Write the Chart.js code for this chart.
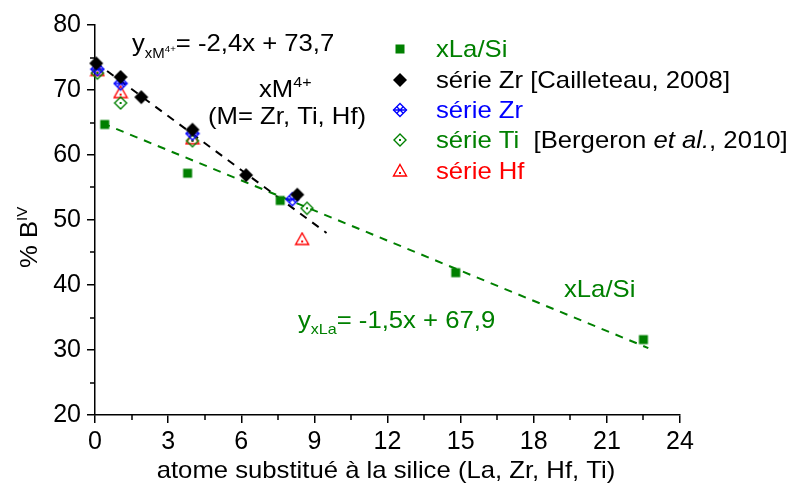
<!DOCTYPE html>
<html>
<head>
<meta charset="utf-8">
<script src="https://cdn.jsdelivr.net/npm/chart.js@4/dist/chart.umd.min.js"></script>
<style>
  html, body { margin: 0; background: #fff; }
</style>
</head>
<body>
<canvas id="chart" width="792" height="489"></canvas>
<script>
/* ---- data ---- */
const laX = [0.4, 3.8, 7.6, 14.8, 22.5];
const laY = [64.7, 57.2, 53.0, 41.9, 31.6];

const zrRefX = [0.05, 1.05, 1.9, 4.0, 6.2, 8.3];
const zrRefY = [74.1, 72.0, 68.9, 63.9, 56.9, 53.9];

const zrX = [0.1, 1.05, 4.0, 8.1];
const zrY = [73.2, 71.0, 63.3, 53.2];

const tiX = [0.1, 1.05, 4.0, 8.7];
const tiY = [72.6, 68.0, 62.2, 51.8];

const hfX = [0.1, 1.05, 4.0, 8.5];
const hfY = [73.0, 69.6, 62.5, 47.0];

// dashed fit lines (end points as drawn)
const fitMX = [0, 9.5];
const fitMY = [74.3, 48.0];
const fitLaX = [0.3, 22.7];
const fitLaY = [64.9, 30.3];

const xTicks = [0, 3, 6, 9, 12, 15, 18, 21, 24];
const yTicks = [20, 30, 40, 50, 60, 70, 80];

const FONT = "'Liberation Sans', Arial, sans-serif";
const GREEN = '#008000', BLUE = '#0000ff', RED = '#ff0000', BLACK = '#000000';
const TXT = 24, STRETCH = 1.07;

const pts = (xs, ys) => xs.map((x, i) => ({ x, y: ys[i] }));

/* ---- marker images ---- */
function marker(kind, color) {
  const c = document.createElement('canvas');
  const s = 16;
  c.width = s; c.height = s;
  const g = c.getContext('2d');
  const m = s / 2;
  g.strokeStyle = color; g.fillStyle = color; g.lineWidth = 1.4;
  if (kind === 'square') {
    g.fillRect(m - 4.5, m - 4.5, 9, 9);
  } else if (kind === 'diamond') {
    g.beginPath(); g.moveTo(m, m - 7); g.lineTo(m + 7, m); g.lineTo(m, m + 7); g.lineTo(m - 7, m); g.closePath(); g.fill();
  } else if (kind === 'mesh') {
    const r = 6.5;
    g.beginPath(); g.moveTo(m, m - r); g.lineTo(m + r, m); g.lineTo(m, m + r); g.lineTo(m - r, m); g.closePath(); g.stroke();
    g.beginPath();
    g.moveTo(m - r / 2, m - r / 2); g.lineTo(m + r / 2, m + r / 2);
    g.moveTo(m + r / 2, m - r / 2); g.lineTo(m - r / 2, m + r / 2);
    g.moveTo(m - r, m); g.lineTo(m + r, m);
    g.stroke();
  } else if (kind === 'openDiamond') {
    const r = 6;
    g.beginPath(); g.moveTo(m, m - r); g.lineTo(m + r, m); g.lineTo(m, m + r); g.lineTo(m - r, m); g.closePath(); g.stroke();
    g.fillRect(m - 1, m - 1, 2, 2);
  } else if (kind === 'triangle') {
    g.beginPath(); g.moveTo(m, m - 6.5); g.lineTo(m + 6.5, m + 5); g.lineTo(m - 6.5, m + 5); g.closePath(); g.stroke();
    g.fillRect(m - 1, m + 1, 2, 2);
  }
  return c;
}

const mkLa = marker('square', GREEN);
const mkZrRef = marker('diamond', BLACK);
const mkZr = marker('mesh', BLUE);
const mkTi = marker('openDiamond', GREEN);
const mkHf = marker('triangle', RED);

/* ---- text helpers ---- */
function rich(ctx, x, y, segs) {
  ctx.save();
  ctx.translate(x, y);
  ctx.scale(STRETCH, 1);
  ctx.textAlign = 'left';
  ctx.textBaseline = 'alphabetic';
  let cx = 0;
  segs.forEach(s => {
    ctx.font = (s.it ? 'italic ' : '') + (s.size || TXT) + 'px ' + FONT;
    ctx.fillStyle = s.color || BLACK;
    ctx.fillText(s.t, cx, s.dy || 0);
    cx += ctx.measureText(s.t).width;
  });
  ctx.restore();
}

const minorTicks = {
  id: 'minorTicks',
  afterDraw(chart) {
    const ctx = chart.ctx;
    const xs = chart.scales.x, ys = chart.scales.y;
    ctx.save();
    ctx.strokeStyle = BLACK; ctx.lineWidth = 1.5;
    ctx.beginPath();
    for (let v = 1.5; v < 24; v += 3) {
      const px = Math.round(xs.getPixelForValue(v));
      ctx.moveTo(px, ys.bottom); ctx.lineTo(px, ys.bottom + 5);
    }
    for (let v = 25; v < 80; v += 10) {
      const py = Math.round(ys.getPixelForValue(v));
      ctx.moveTo(xs.left, py); ctx.lineTo(xs.left - 5, py);
    }
    ctx.stroke();
    ctx.restore();
  }
};

const annotations = {
  id: 'annotations',
  afterDraw(chart) {
    const ctx = chart.ctx;
    ctx.save();
    // equation of the xM4+ fit
    rich(ctx, 132, 51, [
      { t: 'y' }, { t: 'xM', size: 14, dy: 7 }, { t: '4+', size: 9, dy: 1 }, { t: '= -2,4x + 73,7' }
    ]);
    rich(ctx, 259, 97, [{ t: 'xM' }, { t: '4+', size: 15, dy: -10 }]);
    rich(ctx, 208, 124, [{ t: '(M= Zr, Ti, Hf)' }]);
    // xLa/Si fit
    rich(ctx, 564, 297, [{ t: 'xLa/Si', color: GREEN }]);
    rich(ctx, 298, 328, [
      { t: 'y', color: GREEN }, { t: 'xLa', size: 15, dy: 6, color: GREEN }, { t: '= -1,5x + 67,9', color: GREEN }
    ]);

    // legend
    const lx = 400, tx = 436;
    const rows = [
      { img: mkLa, y: 57, segs: [{ t: 'xLa/Si', color: GREEN }] },
      { img: mkZrRef, y: 88, segs: [{ t: 'série Zr [Cailleteau, 2008]' }] },
      { img: mkZr, y: 118, segs: [{ t: 'série Zr', color: BLUE }] },
      { img: mkTi, y: 148, segs: [{ t: 'série Ti', color: GREEN }, { t: '  [Bergeron ' }, { t: 'et al.', it: true }, { t: ', 2010]' }] },
      { img: mkHf, y: 179, segs: [{ t: 'série Hf', color: RED }] }
    ];
    rows.forEach(r => {
      ctx.drawImage(r.img, lx - r.img.width / 2, r.y - 8 - r.img.height / 2);
      rich(ctx, tx, r.y, r.segs);
    });

    // axis titles
    ctx.save();
    ctx.translate(386, 478);
    ctx.scale(STRETCH, 1);
    ctx.font = TXT + 'px ' + FONT;
    ctx.fillStyle = BLACK;
    ctx.textAlign = 'center';
    ctx.fillText('atome substitué à la silice (La, Zr, Hf, Ti)', 0, 0);
    ctx.restore();

    ctx.translate(37, 240);
    ctx.rotate(-Math.PI / 2);
    rich(ctx, -28, 0, [{ t: '% B' }, { t: 'IV', size: 14, dy: -10 }]);
    ctx.restore();
  }
};

const axisCommon = {
  grid: { drawOnChartArea: false, drawTicks: true, tickLength: 8, color: BLACK, lineWidth: 1.5 },
  border: { display: true, color: BLACK, width: 1.5 }
};

new Chart(document.getElementById('chart'), {
  type: 'scatter',
  data: {
    datasets: [
      { label: 'xLa/Si', data: pts(laX, laY), pointStyle: mkLa, clip: false, order: 1 },
      { label: 'série Zr [Cailleteau, 2008]', data: pts(zrRefX, zrRefY), pointStyle: mkZrRef, clip: false, order: 0 },
      { label: 'série Zr', data: pts(zrX, zrY), pointStyle: mkZr, clip: false, order: 1 },
      { label: 'série Ti', data: pts(tiX, tiY), pointStyle: mkTi, clip: false, order: 2 },
      { label: 'série Hf', data: pts(hfX, hfY), pointStyle: mkHf, clip: false, order: 2 },
      { label: 'fit M', type: 'line', data: pts(fitMX, fitMY), borderColor: BLACK, borderWidth: 2,
        borderDash: [8, 7], pointRadius: 0, fill: false, order: 5 },
      { label: 'fit La', type: 'line', data: pts(fitLaX, fitLaY), borderColor: GREEN, borderWidth: 2,
        borderDash: [8, 7], pointRadius: 0, fill: false, order: 5 }
    ]
  },
  options: {
    responsive: false,
    animation: false,
    layout: { padding: { left: 0, top: 25, right: 112, bottom: 0 } },
    plugins: { legend: { display: false }, tooltip: { enabled: false } },
    scales: {
      x: {
        ...axisCommon,
        type: 'linear', min: 0, max: 24,
        afterBuildTicks: s => { s.ticks = xTicks.map(v => ({ value: v })); },
        ticks: { color: BLACK, font: { size: 25, family: FONT }, padding: 4, maxRotation: 0 },
        afterFit: s => { s.height = 74; }
      },
      y: {
        ...axisCommon,
        type: 'linear', min: 20, max: 80,
        afterBuildTicks: s => { s.ticks = yTicks.map(v => ({ value: v })); },
        ticks: { color: BLACK, font: { size: 25, family: FONT }, padding: 6 },
        afterFit: s => { s.width = 95; }
      }
    }
  },
  plugins: [minorTicks, annotations]
});
</script>
</body>
</html>
